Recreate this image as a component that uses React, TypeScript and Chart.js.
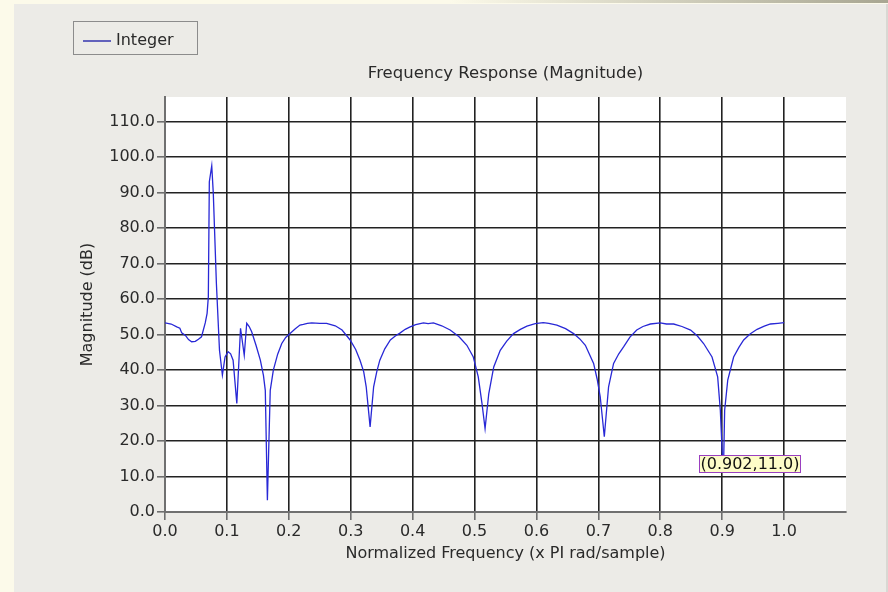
import React, { useEffect, useRef } from 'react';
import { Chart, registerables } from 'chart.js';

Chart.register(...registerables);

// Normalized frequency (x PI rad/sample)
const freq = [
  0.0, 0.01, 0.019, 0.024, 0.027, 0.033, 0.038, 0.043, 0.049, 0.054, 0.059, 0.065, 0.068, 0.07,
  0.0716, 0.0755, 0.078, 0.083, 0.088, 0.0927, 0.097, 0.102, 0.106, 0.11, 0.116, 0.122, 0.128,
  0.132, 0.136, 0.14, 0.147, 0.154, 0.159, 0.162, 0.1654, 0.17, 0.175, 0.182, 0.1886, 0.195,
  0.202, 0.21, 0.218, 0.2235, 0.23, 0.237, 0.25, 0.261, 0.275, 0.286, 0.299, 0.308, 0.315,
  0.321, 0.325, 0.3313, 0.337, 0.342, 0.347, 0.355, 0.364, 0.372, 0.38, 0.388, 0.396, 0.405,
  0.4175, 0.425, 0.4336, 0.447, 0.4606, 0.475, 0.4876, 0.498, 0.506, 0.512, 0.517, 0.523,
  0.531, 0.5415, 0.552, 0.563, 0.574, 0.5846, 0.598, 0.611, 0.62, 0.633, 0.647, 0.66, 0.67,
  0.679, 0.6923, 0.698, 0.703, 0.7096, 0.7165, 0.7246, 0.733, 0.741, 0.751, 0.762, 0.772,
  0.784, 0.8, 0.81, 0.8216, 0.835, 0.849, 0.86, 0.87, 0.8836, 0.8927, 0.897, 0.9, 0.902,
  0.904, 0.909, 0.9185, 0.927, 0.9347, 0.945, 0.9564, 0.968, 0.978, 0.99, 1.0,
];

// Magnitude (dB)
const magnitudeDb = [
  53.3, 53.0, 52.2, 51.8, 50.5, 49.8, 48.6, 48.0, 48.1, 48.7, 49.4, 53.3, 56.0, 60.7,
  93.1, 97.6, 89.9, 64.5, 45.6, 38.6, 43.7, 45.2, 44.6, 42.8, 30.6, 51.8, 44.2,
  53.2, 52.3, 50.8, 47.0, 42.8, 38.5, 34.3, 3.3, 34.3, 40.0, 44.5, 47.5, 49.2,
  50.3, 51.6, 52.7, 52.9, 53.2, 53.3, 53.2, 53.2, 52.5, 51.3, 48.5, 45.8, 42.8,
  39.5, 35.3, 24.0, 35.3, 39.5, 42.8, 46.0, 48.5, 49.6, 50.5, 51.5, 52.2, 52.8,
  53.3, 53.1, 53.3, 52.5, 51.3, 49.4, 47.0, 43.7, 38.1, 30.6, 23.5, 33.4,
  40.9, 45.6, 48.2, 50.3, 51.5, 52.4, 53.1, 53.4, 53.2, 52.7, 51.7, 50.3, 48.8,
  47.0, 41.9, 37.5, 32.5, 21.2, 35.3, 41.9, 44.6, 46.6, 49.3, 51.3, 52.3,
  53.0, 53.3, 53.0, 53.0, 52.3, 51.3, 49.6, 47.5, 43.7, 38.1, 28.7, 17.0, 11.0,
  28.7, 37.2, 43.7, 46.4, 48.5, 50.2, 51.5, 52.4, 53.0, 53.2, 53.4,
];

const xTicks = [0.0, 0.1, 0.2, 0.3, 0.4, 0.5, 0.6, 0.7, 0.8, 0.9, 1.0];
const yTicks = [0, 10, 20, 30, 40, 50, 60, 70, 80, 90, 100, 110];

const seriesName = 'Integer';
const chartTitle = 'Frequency Response (Magnitude)';
const xTitle = 'Normalized Frequency (x PI rad/sample)';
const yTitle = 'Magnitude (dB)';

// Data point picked out with a value tag
const markerFreq = 0.902;
const markerDb = 11.0;

const FONT = 'DejaVu Sans, Verdana, sans-serif';
const LINE_COLOR = 'rgb(40, 40, 214)';
const TEXT_COLOR = '#2a2a2a';

const framePlugin = {
  id: 'frame',
  beforeDraw(chart: any) {
    const { ctx, width, height, chartArea } = chart;
    ctx.save();
    // outer window background
    ctx.fillStyle = '#fcfaea';
    ctx.fillRect(0, 0, width, height);
    // title bar shading along the top edge
    const g = ctx.createLinearGradient(450, 0, width, 0);
    g.addColorStop(0, '#fcfaea');
    g.addColorStop(1, '#a8a692');
    ctx.fillStyle = g;
    ctx.fillRect(0, 0, width, 3);
    // panel
    ctx.fillStyle = '#ecebe7';
    ctx.fillRect(14, 4, width - 16, height - 4);
    ctx.fillStyle = '#d9d8d3';
    ctx.fillRect(width - 2, 4, 2, height - 4);
    // plot area
    ctx.fillStyle = '#ffffff';
    ctx.fillRect(chartArea.left, chartArea.top, chartArea.right - chartArea.left, chartArea.bottom - chartArea.top);
    ctx.restore();
  },
  afterDraw(chart: any) {
    const { ctx, chartArea } = chart;
    ctx.save();
    // chart title
    ctx.font = `16.5px ${FONT}`;
    ctx.fillStyle = TEXT_COLOR;
    ctx.textAlign = 'center';
    ctx.textBaseline = 'middle';
    ctx.fillText(chartTitle, (chartArea.left + chartArea.right) / 2, 74);

    // legend box
    ctx.font = `16px ${FONT}`;
    ctx.strokeStyle = '#8c8c8c';
    ctx.lineWidth = 1;
    ctx.strokeRect(73.5, 21.5, 124, 33);
    ctx.strokeStyle = 'rgb(40, 40, 170)';
    ctx.lineWidth = 1.4;
    ctx.beginPath();
    ctx.moveTo(83, 41);
    ctx.lineTo(111, 41);
    ctx.stroke();
    ctx.fillStyle = TEXT_COLOR;
    ctx.textAlign = 'left';
    ctx.fillText(seriesName, 116, 41);

    // value tag at the marked point
    const xs = chart.scales.x;
    const ys = chart.scales.y;
    const px = xs.getPixelForValue(markerFreq);
    const py = ys.getPixelForValue(markerDb);
    const label = `(${markerFreq.toFixed(3)},${markerDb.toFixed(1)})`;
    ctx.font = `16px ${FONT}`;
    const w = Math.round(ctx.measureText(label).width) + 2;
    const left = Math.round(px - 24) + 0.5;
    const top = Math.round(py - 18) + 0.5;
    ctx.fillStyle = '#fdfcc8';
    ctx.fillRect(left, top, w, 17);
    ctx.strokeStyle = '#9a3fc0';
    ctx.lineWidth = 1;
    ctx.strokeRect(left, top, w, 17);
    ctx.fillStyle = '#111';
    ctx.textAlign = 'left';
    ctx.textBaseline = 'middle';
    ctx.fillText(label, left + 1, top + 9);
    ctx.restore();
  },
};

export default function App() {
  const canvasRef = useRef<HTMLCanvasElement | null>(null);

  useEffect(() => {
    const canvas = canvasRef.current;
    if (!canvas) return;
    const points = freq.map((f, i) => ({ x: f, y: magnitudeDb[i] }));

    const gridColor = (ctx: any) => (ctx.tick && ctx.tick.value === 0 ? 'rgba(0,0,0,0)' : '#222222');

    const chart = new Chart(canvas, {
      type: 'line',
      data: {
        datasets: [
          {
            label: seriesName,
            data: points,
            borderColor: LINE_COLOR,
            borderWidth: 1.3,
            pointRadius: 0,
            tension: 0,
            fill: false,
          },
        ],
      },
      options: {
        animation: false,
        responsive: false,
        devicePixelRatio: 1,
        parsing: false as any,
        layout: { padding: { left: 0, top: 97, right: 42, bottom: 0 } },
        plugins: {
          legend: { display: false },
          title: { display: false },
          tooltip: { enabled: false },
        },
        scales: {
          x: {
            type: 'linear',
            min: 0,
            max: 1.1,
            afterBuildTicks: (scale: any) => {
              scale.ticks = xTicks.map((value) => ({ value }));
            },
            afterFit: (scale: any) => {
              scale.height = 80;
            },
            ticks: {
              autoSkip: false,
              maxRotation: 0,
              padding: 2,
              color: TEXT_COLOR,
              font: { family: FONT, size: 16 },
              callback: (v: any) => Number(v).toFixed(1),
            },
            grid: {
              color: gridColor,
              tickColor: '#6e6e6e',
              lineWidth: 1.6,
              tickLength: 8,
            },
            border: { color: '#707070', width: 2 },
            title: {
              display: true,
              text: xTitle,
              color: TEXT_COLOR,
              font: { family: FONT, size: 16 },
              padding: { top: 0, bottom: 29 },
            },
          },
          y: {
            type: 'linear',
            min: 0,
            max: 117,
            afterBuildTicks: (scale: any) => {
              scale.ticks = yTicks.map((value) => ({ value }));
            },
            afterFit: (scale: any) => {
              scale.width = 165;
            },
            ticks: {
              autoSkip: false,
              padding: 2,
              color: TEXT_COLOR,
              font: { family: FONT, size: 16 },
              callback: (v: any) => Number(v).toFixed(1),
            },
            grid: {
              color: gridColor,
              tickColor: '#6e6e6e',
              lineWidth: 1.6,
              tickLength: 8,
            },
            border: { color: '#707070', width: 2 },
            title: {
              display: true,
              text: yTitle,
              color: TEXT_COLOR,
              font: { family: FONT, size: 16 },
              padding: { top: 78, bottom: 0 },
            },
          },
        },
      },
      plugins: [framePlugin],
    });

    return () => {
      chart.destroy();
    };
  }, []);

  return (
    <div style={{ position: 'fixed', left: 0, top: 0, width: 888, height: 592 }}>
      <canvas ref={canvasRef} width={888} height={592} style={{ display: 'block', width: 888, height: 592 }} />
    </div>
  );
}
